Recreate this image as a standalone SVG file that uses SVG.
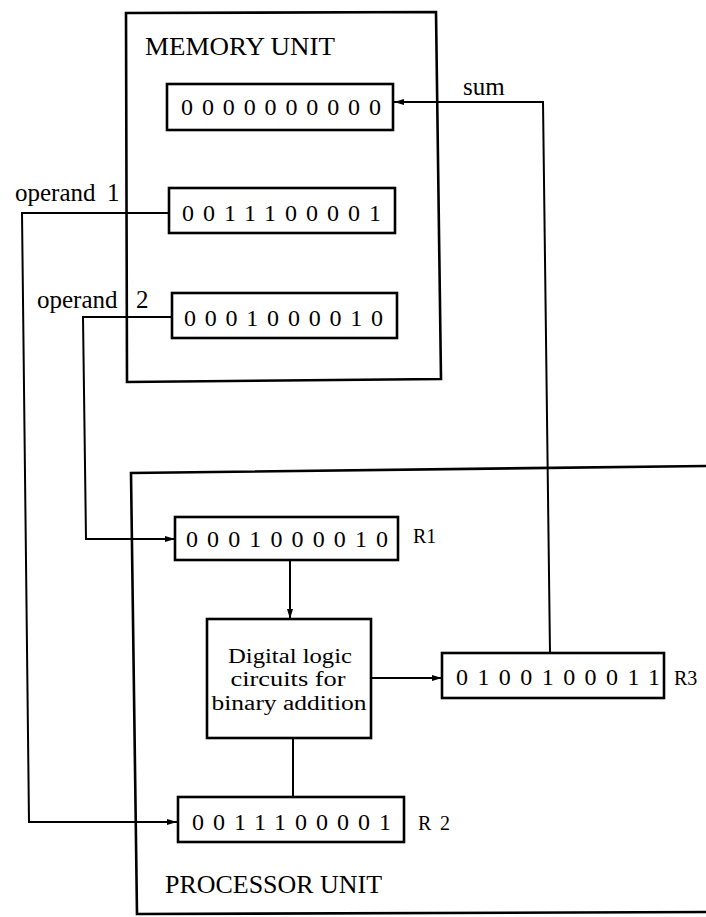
<svg xmlns="http://www.w3.org/2000/svg" width="706" height="917" viewBox="0 0 706 917">
<style>
.unit{fill:none;stroke:#000;stroke-width:2.6;stroke-linejoin:miter}
.reg{fill:#fff;stroke:#000;stroke-width:2.6}
.lbl{font-family:"Liberation Serif","Times New Roman",serif;font-size:25px;fill:#000}
.dig{font-family:"Liberation Serif","Times New Roman",serif;font-size:24px;fill:#000}
.rn{font-family:"Liberation Serif","Times New Roman",serif;font-size:20px;fill:#000}
.logic{font-family:"Liberation Serif","Times New Roman",serif;font-size:20px;fill:#000;text-anchor:middle}
.wire{fill:none;stroke:#000;stroke-width:2}
</style>
<defs>
<marker id="ah" viewBox="0 0 10 6" refX="10" refY="3" markerWidth="10" markerHeight="6" orient="auto" markerUnits="userSpaceOnUse">
<path d="M0,0 L10,3 L0,6 z" fill="#000"/>
</marker>
</defs>
<rect width="706" height="917" fill="#fff"/>

<g id="memory-unit">
<path class="unit" d="M126,13 L436,12 L441,379 L127,382 Z"/>
<text class="lbl" x="145" y="55" textLength="190" lengthAdjust="spacingAndGlyphs">MEMORY UNIT</text>
</g>

<g id="processor-unit">
<path class="unit" d="M706,466 L131,473 L137,914 L706,912"/>
<text class="lbl" x="165" y="893" textLength="217" lengthAdjust="spacingAndGlyphs">PROCESSOR UNIT</text>
</g>

<g id="mem-sum">
<rect class="reg" x="167" y="84" width="226" height="46"/>
<text class="dig" x="181" y="115" textLength="200" lengthAdjust="spacing">0000000000</text>
</g>

<g id="mem-operand1">
<rect class="reg" x="169" y="188" width="226" height="45"/>
<text class="dig" x="182" y="221" textLength="199" lengthAdjust="spacing">0011100001</text>
</g>

<g id="mem-operand2">
<rect class="reg" x="172" y="293" width="225" height="45"/>
<text class="dig" x="184" y="326" textLength="199" lengthAdjust="spacing">0001000010</text>
</g>

<g id="R1">
<rect class="reg" x="175" y="517" width="223" height="43"/>
<text class="dig" x="186" y="547" textLength="202" lengthAdjust="spacing">0001000010</text>
<text class="rn" x="413" y="543">R1</text>
</g>

<g id="logic">
<rect class="reg" x="207" y="619" width="164" height="119"/>
<text class="logic" x="290" y="663" textLength="124" lengthAdjust="spacingAndGlyphs">Digital logic</text>
<text class="logic" x="288" y="686" textLength="115" lengthAdjust="spacingAndGlyphs">circuits for</text>
<text class="logic" x="289" y="710" textLength="155" lengthAdjust="spacingAndGlyphs">binary addition</text>
</g>

<g id="R3">
<rect class="reg" x="442" y="653" width="222" height="45"/>
<text class="dig" x="456" y="685" textLength="204" lengthAdjust="spacing">0100100011</text>
<text class="rn" x="674" y="685">R3</text>
</g>

<g id="R2">
<rect class="reg" x="178" y="797" width="226" height="45"/>
<text class="dig" x="192" y="830" textLength="199" lengthAdjust="spacing">0011100001</text>
<text class="rn" x="418" y="830" textLength="32" lengthAdjust="spacing">R2</text>
</g>

<g id="connectors">
<path class="wire" d="M550,653 L543,102 L394,102" marker-end="url(#ah)"/>
<path class="wire" d="M169,213 L22,213 L29,822 L177,822" marker-end="url(#ah)"/>
<path class="wire" d="M172,317 L83,317 L86,539 L175,539" marker-end="url(#ah)"/>
<path class="wire" d="M290,560 L290,619" marker-end="url(#ah)"/>
<path class="wire" d="M371,678 L442,678" marker-end="url(#ah)"/>
<path class="wire" d="M293,797 L293,738"/>
<text class="lbl" x="463" y="95">sum</text>
<text class="lbl" x="15" y="201">operand<tspan x="107">1</tspan></text>
<text class="lbl" x="37" y="308">operand<tspan x="136">2</tspan></text>
</g>
</svg>
